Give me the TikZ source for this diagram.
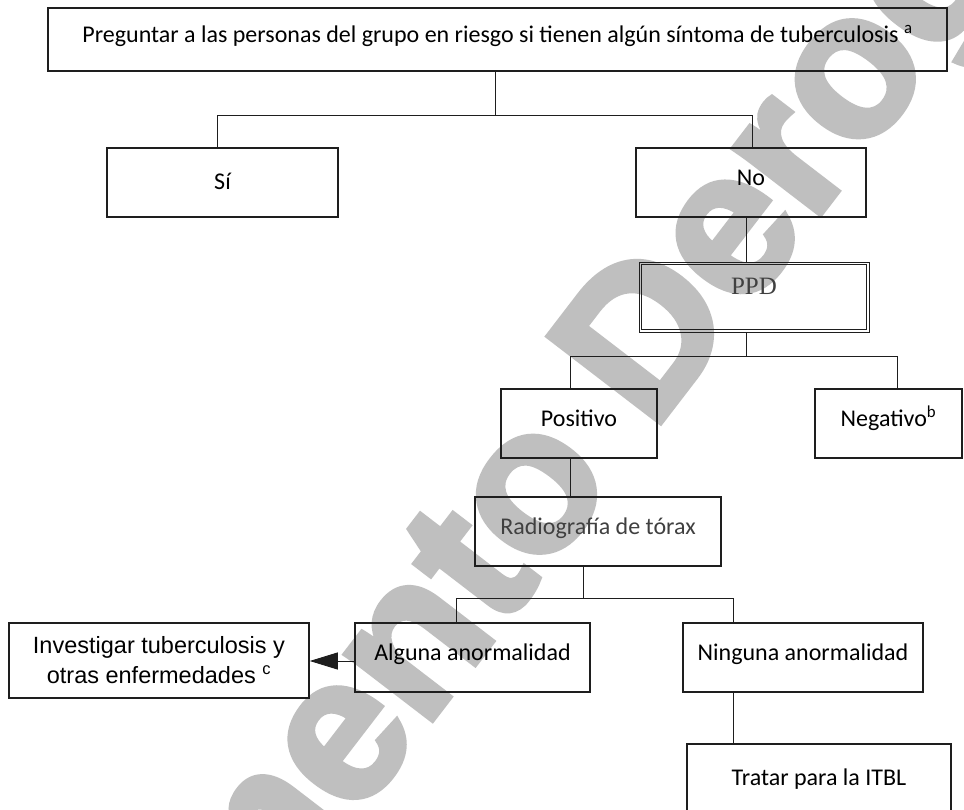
\documentclass[tikz,border=0pt]{standalone}
\usepackage{fontspec}
\setmainfont{Carlito}
\newfontfamily\arialf{Liberation Sans}
\newfontfamily\serf{Liberation Serif}
\newfontfamily\wmfont{Liberation Sans Bold}[FakeBold=3]
\usetikzlibrary{arrows.meta}
\definecolor{wm}{RGB}{191,191,191}
\definecolor{dk}{RGB}{30,30,30}
\definecolor{txtgray}{RGB}{64,64,64}
\begin{document}
\begin{tikzpicture}[x=1pt,y=-1pt,
  boxline/.style={draw=dk, line width=1.5pt, inner sep=0pt},
  box/.style={boxline, font=\fontsize{24}{29}\selectfont, text height=0.75em, text depth=0.11em},
  conn/.style={draw=dk, line width=0.9pt},
  wmtext/.style={rotate=52.5, anchor=base, inner sep=0pt, text=wm, font=\wmfont\fontsize{205}{205}\selectfont}
]
\useasboundingbox[fill=white] (0,0) rectangle (964,810);
% watermark
\node[wmtext] (wmk) at (583,523) {Documento Derogado};

% boxes
\node[box, minimum width=899pt, minimum height=63pt] (top) at (497.5,39.5)
  {Preguntar a las personas del grupo en riesgo si tienen algún síntoma de tuberculosis \textsuperscript{a}};
\node[box, minimum width=231pt, minimum height=69pt] (si) at (222.5,182.5) {\raisebox{-4pt}{Sí}};
\node[box, minimum width=230pt, minimum height=69pt] (no) at (751,182.5) {No};
\node[box, line width=0.8pt, minimum width=230pt, minimum height=70pt,
      text=txtgray, font=\serf\fontsize{25}{29}\selectfont] (ppd) at (754,297) {\raisebox{6pt}{PPD}};
\draw[line width=1.6pt, dk] ([shift={(3,3)}]ppd.north west) rectangle ([shift={(-3,-3)}]ppd.south east);
\node[box, minimum width=156pt, minimum height=69pt] (pos) at (579,423.5) {Positivo};
\node[box, minimum width=147pt, minimum height=69pt] (neg) at (888.5,423.5) {Negativo\textsuperscript{b}};
\node[box, minimum width=246pt, minimum height=69pt, text=txtgray] (rad) at (598,531.5) {Radiografía de tórax};
\node[box, minimum width=235pt, minimum height=69pt] (alg) at (472.5,657.5) {Alguna anormalidad};
\node[box, minimum width=240pt, minimum height=69pt] (nin) at (803,657.5) {Ninguna anormalidad};
\node[box, minimum width=264pt, minimum height=76pt] (trat) at (819,782) {Tratar para la ITBL};
\node[boxline, minimum width=300pt, minimum height=75pt, align=center,
      font=\arialf\fontsize{23.5}{30}\selectfont] (inv) at (159,660.5)
  {Investigar tuberculosis y\\otras enfermedades \textsuperscript{c}};

% connectors
\coordinate (j1) at (495,115);
\coordinate (jsi) at (217,115);
\coordinate (jno) at (752,115);
\draw[conn] (top.south -| j1) -- (j1);
\draw[conn] (si.north -| jsi) -- (jsi) -- (jno) -- (no.north -| jno);
\coordinate (j2) at (746,356);
\coordinate (jpos) at (570,356);
\coordinate (jneg) at (897,356);
\draw[conn] (no.south -| j2) -- (ppd.north -| j2);
\draw[conn] (ppd.south -| j2) -- (j2);
\draw[conn] (pos.north -| jpos) -- (jpos) -- (jneg) -- (neg.north -| jneg);
\draw[conn] (pos.south -| jpos) -- (rad.north -| jpos);
\coordinate (j3) at (583,598);
\coordinate (jalg) at (456,598);
\coordinate (jnin) at (733,598);
\draw[conn] (rad.south -| j3) -- (j3);
\draw[conn] (alg.north -| jalg) -- (jalg) -- (jnin) -- (nin.north -| jnin);
\draw[conn] (nin.south -| jnin) -- (trat.north -| jnin);
\coordinate (ay) at (0,661);
\draw[conn, -{Triangle[length=28pt,width=17pt]}] (alg.west |- ay) -- (inv.east |- ay);
\end{tikzpicture}
\end{document}
